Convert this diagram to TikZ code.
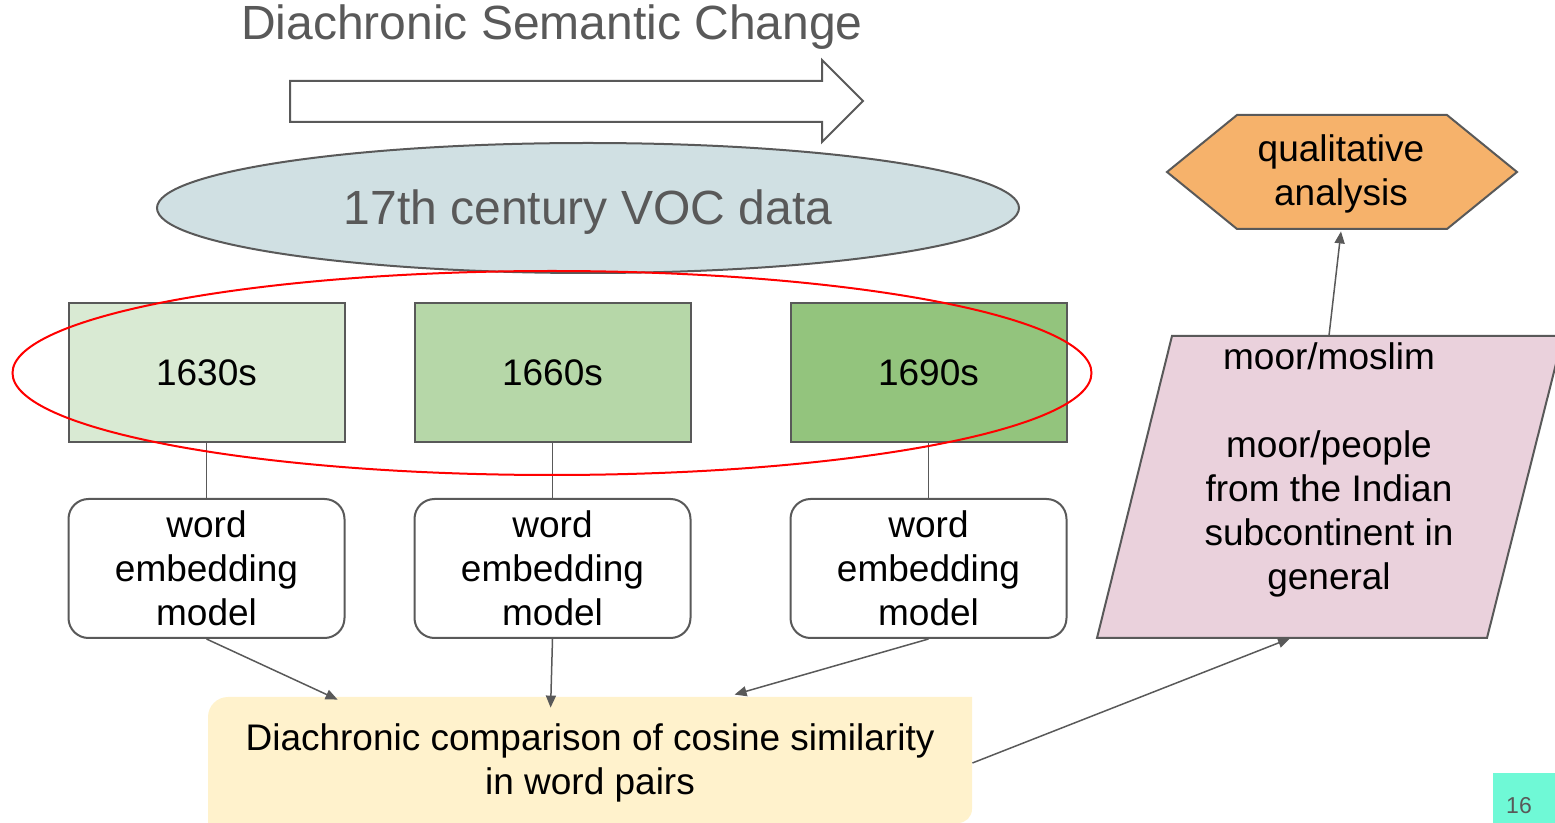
\documentclass[tikz,border=0pt]{standalone}
\usepackage{fontspec}
\setmainfont{Liberation Sans}
\usetikzlibrary{shapes.geometric,arrows.meta,calc}
\definecolor{edge}{HTML}{595959}
\definecolor{voc}{HTML}{D0E0E3}
\definecolor{ga}{HTML}{D9EAD3}
\definecolor{gb}{HTML}{B6D7A8}
\definecolor{gc}{HTML}{93C47D}
\definecolor{cmpfill}{HTML}{FFF2CC}
\definecolor{hexfill}{HTML}{F6B26B}
\definecolor{pgfill}{HTML}{EAD1DC}
\definecolor{pnfill}{HTML}{6FF9D6}
\tikzset{
  txt/.style={font=\fontsize{18.5}{22}\selectfont, align=center, text=black},
  yearbox/.style={txt, draw=edge, line width=1pt, minimum width=138pt, minimum height=69.5pt, inner sep=0pt},
  wembox/.style={txt, draw=edge, fill=white, line width=1pt, rounded corners=10pt, minimum width=138pt, minimum height=69.5pt, inner sep=0pt},
  conn/.style={draw=edge, line width=0.75pt},
  arr/.style={conn, -{Triangle[length=6pt,width=5pt]}},
}
\begin{document}
\begin{tikzpicture}[x=0.5pt,y=-0.5pt]
\useasboundingbox (0,0) rectangle (1555,823);
% title
\node[font=\fontsize{24}{28}\selectfont, text=edge] (title) at (552,27) {Diachronic Semantic Change};
% block arrow
\draw[draw=edge, fill=white, line width=1pt, line join=miter]
  (290,81) -- (822,81) -- (822,60) -- (863,101) -- (822,142) -- (822,122) -- (290,122) -- cycle;
% VOC ellipse
\node[ellipse, draw=edge, fill=voc, line width=1pt, minimum width=431pt, minimum height=65pt, inner sep=0pt] (voc) at (588,208) {};
\node[font=\fontsize{24}{28}\selectfont, text=edge] (voctext) at (588,212) {17th century VOC data};
% year boxes
\node[yearbox, fill=ga] (y1) at (206.5,373) {1630s};
\node[yearbox, fill=gb] (y2) at (552.5,373) {1660s};
\node[yearbox, fill=gc] (y3) at (928.5,373) {1690s};
% word embedding models
\node[wembox] (w1) at (206.5,568.5) {word\\embedding\\model};
\node[wembox] (w2) at (552.5,568.5) {word\\embedding\\model};
\node[wembox] (w3) at (928.5,568.5) {word\\embedding\\model};
\draw[conn] (y1.south) -- (w1.north);
\draw[conn] (y2.south) -- (w2.north);
\draw[conn] (y3.south) -- (w3.north);
% red ellipse
\draw[red, line width=1pt] (552,373) ellipse [x radius=269.75pt, y radius=51pt];
\begin{scope}
\clip (0,0) rectangle (1555,823);
% comparison box
\fill[cmpfill] (208,830) [rounded corners=10pt] -- (208,697) [sharp corners] -- (972,697) [rounded corners=7pt] -- (972,823) [sharp corners] -- (800,823) -- (208,830);
% parallelogram
\draw[draw=edge, fill=pgfill, line width=1pt, line join=miter] (1172,336) -- (1563,336) -- (1487,638) -- (1097,638) -- cycle;
\end{scope}
\node[txt, minimum width=382pt, minimum height=63pt, inner sep=0pt] (cmp) at (590,763) {Diachronic comparison of cosine similarity\\in word pairs};
% hexagon
\draw[draw=edge, fill=hexfill, line width=1pt, line join=miter]
  (1167,172) -- (1237,115) -- (1447,115) -- (1517,172) -- (1447,229) -- (1237,229) -- cycle;
\node[txt, minimum width=140pt, minimum height=57pt, inner sep=0pt] (qa) at (1341,174) {qualitative\\analysis};
% parallelogram text
\node[txt, minimum height=151pt, inner sep=0pt] (mm) at (1329,487) {};
\node[txt, anchor=north] (mmtext) at (1329,336) {moor/moslim\\[22pt]moor/people\\from the Indian\\subcontinent in\\general};
% connectors
\draw[arr] (w1.south) -- ($(cmp.north west)+(130,0)$);
\draw[arr] (w2.south) -- ($(cmp.north west)+(343,8)$);
\draw[arr] (w3.south) -- ($(cmp.north west)+(527,-5)$);
\draw[arr] (cmp.east) -- ($(mm.south)+(-39,0)$);
\draw[arr] (mm.north) -- (qa.south);
% page number
\fill[pnfill] (1493,773) rectangle (1555,823);
\node[font=\fontsize{11.5}{13}\selectfont, text=edge] (pn) at (1519,806) {16};
\end{tikzpicture}
\end{document}
